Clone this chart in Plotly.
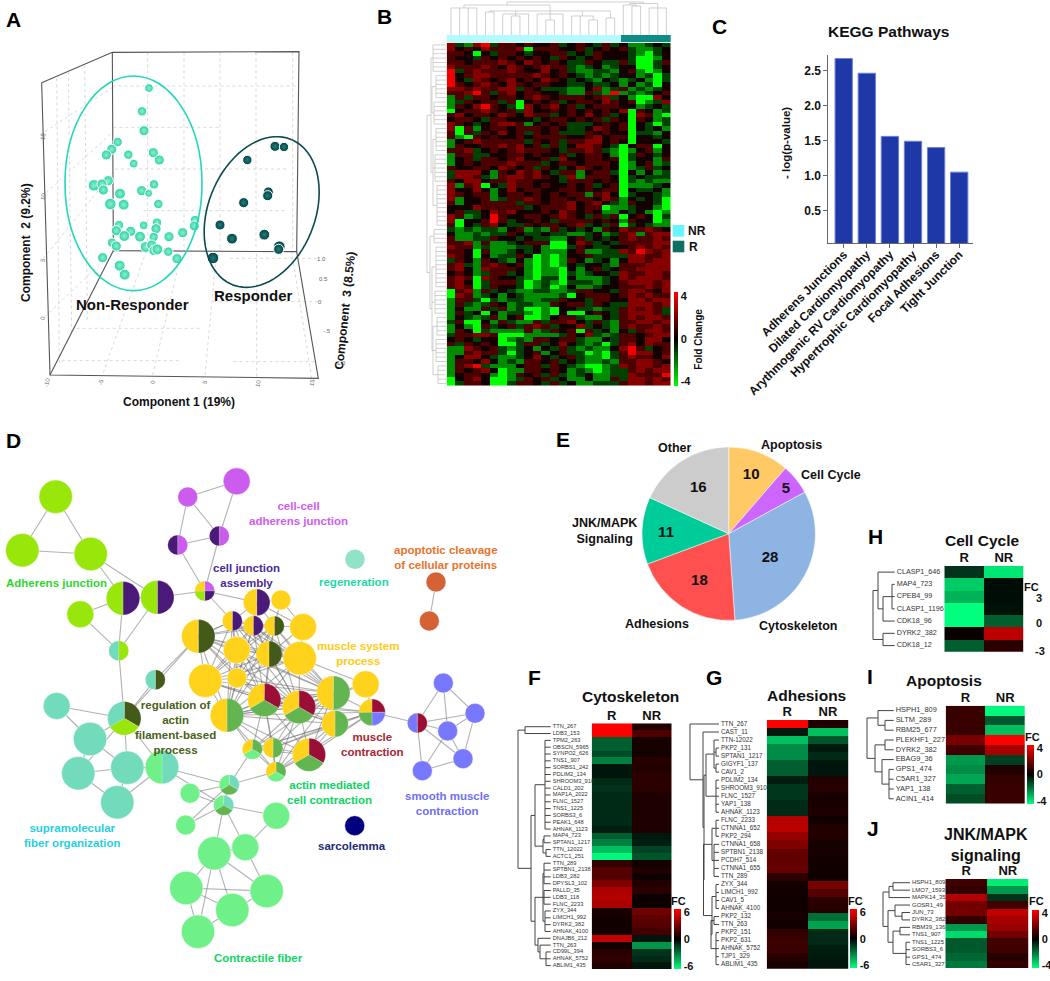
import itertools
import numpy as np
import plotly.graph_objects as go

W, H = 1050, 981
FONT = 'Liberation Sans'

# ---------- A: PCA, positions (picture units, 3 per px)
nr_x = [447, 426, 432, 353, 335, 319, 385, 401, 460, 478, 325, 282, 306, 310, 462, 425, 446, 360, 331, 371, 475, 357, 349,
        392, 373, 420, 431, 471, 468, 461, 507, 548, 585, 583, 336, 349, 437, 455, 462, 472, 505, 531, 308, 359, 374]
nr_y = [264, 334, 392, 426, 448, 465, 464, 491, 458, 480, 542, 556, 552, 570, 553, 572, 580, 581, 612, 614, 612, 675, 692,
        694, 708, 710, 676, 668, 686, 711, 710, 698, 660, 678, 728, 738, 741, 735, 752, 748, 755, 776, 773, 797, 824]
nr_s = [12, 13, 14, 13, 14, 14, 13, 12, 14, 14, 14, 16, 14, 14, 13, 14, 11, 15, 16, 15, 13, 13, 14, 14, 15, 15, 12, 13,
        14, 13, 14, 14, 13, 14, 13, 14, 15, 14, 14, 15, 13, 14, 14, 15, 15]
r_x = [825, 852, 742, 805, 803, 731, 660, 696, 793, 838, 836, 639]
r_y = [439, 441, 480, 576, 587, 608, 675, 716, 704, 740, 748, 774]
r_s = [14, 13, 13, 14, 14, 14, 14, 15, 15, 16, 14, 16]

box_x = [125, 337, 897, 890, 340, 337, None, 125, 150, 955, 890, None, 340, 150]
box_y = [248, 157, 155, 755, 752, 157, None, 248, 1125, 1135, 755, None, 752, 1125]
wall_x = [443, 443, None, 552, 552, None, 660, 660, None, 768, 768, None, 878, 878, None,
          337, 897, None, 340, 655, None, 345, 860, None, 430, 860, None,
          120, 337, None, 125, 340, None, 130, 345, None, 135, 345, None,
          205, 215, None, 254, 262, None, 170, 178, None,
          310, 440, None, 458, 545, None, 615, 650, None, 770, 770, None, 935, 875, None,
          690, 950, None, 640, 960, None, 230, 600, None, 185, 540, None, 700, 950]
wall_y = [157, 752, None, 157, 752, None, 157, 752, None, 157, 752, None, 157, 752, None,
          258, 258, None, 382, 382, None, 507, 507, None, 632, 632, None,
          405, 262, None, 590, 395, None, 775, 510, None, 950, 750, None,
          215, 1000, None, 195, 960, None, 235, 1090, None,
          1118, 750, None, 1125, 755, None, 1125, 755, None, 1130, 755, None, 1135, 755, None,
          775, 775, None, 905, 905, None, 985, 985, None, 1082, 1082, None, 1085, 1085]

# ---------- B: fold-change heatmap, one letter per cell
b_levels = {'G': -4, 'g': -2.2, 'd': -1, 'k': .3, 'm': 1.2, 'r': 2.1, 'R': 3.8}
b_rows = [
    "rdgrR dmmkm kkmdk mkdmd kggdkd", "rkmkr mmmrG mmmkk mdkmk mdggdk", "mmkGk dmmkd kkmmd kdmkk kdgGdk",
    "mkkdm kmkmk mkdmk dkmkk kdGGgk", "mmkmm mrmkr mkmkd dmkdd mdGGdm", "rmmmr mkrmk mrmmd gdkgd kkGGdk",
    "Rdmrm mmrmk krkmd ggddg kmgGgk", "Rkmrr mmmmm rmkmk dgdgd kkgdGd", "Rkdrm kmrkm krmkd kdgkd gdkgGd",
    "Rmkmr mkrmk mmkkd dkddk gkgdGk", "rrmrm mrrdm kdddg gkrgd mgdgdk", "mmrRm dmrkm mkkdg gmdgR gdgdkm",
    "gmdmm kmmkm rmkmm mkmrd kgGGrk", "gdmkm mdmGk mkmdk mmkrm kmGgdr", "gmkrR mkdGr kmrkm dkmmm kkgdkd",
    "Gkmmr mkmdr kkmkm kmkmk rGmkgd", "mrkmm krmkr mmdkm krkmd kGrmgG", "kmmkd mmkkk dkmmk mkmdm kGmkgd",
    "rmkdk mrrmg kmkmd ddkmk mGkdGd", "rGmgk mmkmm mkmkd dkrmk mGkdkg", "mGmdm krkmd mkmdd dmkmk kGddgk",
    "mgGmk mkkmk mmmmk kmrkm mGkkdk", "gkmrm mmmmd mkmdm mrrkm kGkkkd", "gmkkm mrmrk mdmdk rrmkd GkmmGk",
    "mmrdk mkmrm mmkdm mrmdg Ggkmgk", "gmmdd kkmmk mkkmd kmmkg Gdmkdk", "gkmdm mkmrk kmdrk kmmkm Gdkkgm",
    "gkmkm mmrmm mdkmm kmmmk Ggkmgd", "mkkmm krmkm dmkdk rmkmk Ggdmdk", "drrrk gmkrm rkdmm gkmmd Gkgkgd",
    "drrmd gmrrm rmkdr gmmmk Gdkddd", "mkrrk mmrmm kkkdm mmkmk Gdgdgg", "rgmrG kdrmm kmkkm kmdkm Ggggdk",
    "rkkrk gkrkm mkkmm kmkmm Gkddkg", "rmkmm gkmmk mkmkm mgmrk Gdkkdg", "rgkkm gdmmr mkmmk mmkrm gkdkdG",
    "mgkkm mmmdm mkmmr kmrkd gmkkdG", "kkkrm mmmmd kmmmr kmmGg gdkkgG", "kmddk rmrkk kmkrm kmkgg kdkgGg",
    "rmgdk Rmkkm mkmrm kdmdm GkmkGd", "rGkkm Rmdkk mkdmm mmkmk gmkkGg", "mGkdm rkddm kmmkm rdkdm Gdkdgg",
    "dgdgd dgkmg dgmdk dkgmk rmmrmk", "kggdg ddmkd dkddg gdkgd mrgmrr", "mggdd mkkdk ddggk mdkdk mrmmrm",
    "mmrgm ggdkm mmGGk rmdkd mmmmrr", "rmmgd gggdd kgGGd mkddk kmrmrm", "mmkGm ggdkd kgggk mggdd rmRrmr",
    "rmkGk gddmk GgGgk kmddd drrmmr", "dmkgm kdgkg GgGgm kgdkg krrmrr", "mrdgm rmkmg GgGgk dkkdg mmmrrr",
    "mrkgr mmmkg GggGk gkmdk mmrrrr", "kmkgd mmdkg GggGd gdkkd rmmrrm", "mrmGr mkkdg GddGk gggdk rmrrrm",
    "mrkGd mmmdG gdgGd ddgdk mrrrmr", "mrmGd mkkdG gdGgk ggdkk mmmrmr", "Gmrgm dkdgg ddggd mmkkd mrrmkr",
    "Grmgd kgkdg gggdG kmmmk mrmrmm", "gmmdG dgddg gddmk kdmmk krrmrr", "gmdgd mkgdd ggmkm mdmkd drrrmr",
    "gkggm dmgdG GgGkk ddgdd mrmrmd", "gmdkG kgddg GgGkG Gkmkd mrrrmd", "gkdgd mgkmG Ggkmm dggkd mrmrrm",
    "dmGGk gmdgg mdmmr kdmdg mmrrmr", "gkgGm dkmdm rmdkk rdkdg mrmmrm", "gmkGd ggggm gdmkm Gmdkg kdmrrm",
    "dmmrr mGGGg gggdm krdgd mmkmrr", "kmkdk kGgdg mmkmm dggkd mmkrrk", "mdmkm kGGdm mdkrk dgdGd mrkrmm",
    "ggrmk mdgdk gkdmd gdggk rRmdkm", "ggmrm mdGdk mgkmd dGgGd mRrrkm", "gkrrk dggdk rkdkm dggGd mrmmkr",
    "gmmkr kgdgm mkmdk dggdg mmrrmk", "gmrRd gggkm mdmkd gGGgd rmrrmr", "gmkmr kGggm mkmkg dgGgd dmrmrr",
    "gkmmk gGgmk mdmdg dkggd drmmmR", "Gkmrk GGgdm kmdkg gkggm drrmrm", "Gdmmk GGdmm kdmdk ggddd mrrmrr",
]
b_top_tree = (2, [(5, [(8, [0, 1, 2, 3]),
                       (11, [(12, [4, 5]), (14, [6, (16, [7, 8]), 9]), (14, [10, (20, [11, 12]), 13]),
                             (16, [14, 15, (20, [16, 17])]), (18, [18, 19])])]),
                  (3.5, [(5, [20, (6, [21, 22])]), (8, [23, 24, 25])])])
b_left_tree = (427, [(431, [(433, [0, 1, 2, 3, 4, 5, 6]), (432, [(436, [7, 8, 9, 10, 11, 12]), (434, [13, 14, 15, 16, 17, 18])]),
                            (433, [(436, [19, 20, 21, 22, 23, 24]), (435, [25, 26, 27, 28, 29, 30, 31]), (437, [32, 33, 34, 35, 36, 37, 38, 39, 40, 41])])]),
                     (430, [(434, [42, 43, 44, 45]), (432, [(436, [46, 47, 48, 49, 50, 51, 52, 53, 54, 55]), (435, [56, 57, 58, 59, 60, 61]),
                                                            (433, [(437, [62, 63, 64, 65, 66]), (436, [67, 68, 69, 70, 71, 72]), (438, [73, 74, 75, 76, 77])])])])])

# ---------- C: KEGG
kegg_terms = ['Adherens Junctions', 'Dilated Cardiomyopathy', 'Arythmogenic RV Cardiomyopathy',
              'Hypertrophic Cardiomyopathy', 'Focal Adhesions', 'Tight Junction']
kegg_vals = [2.67, 2.46, 1.56, 1.49, 1.40, 1.05]

# ---------- D: network
LIME, PURPLE, PINK, YEL, OLIVE = '#98E60A', '#4A1A78', '#CC5CEE', '#FFD21C', '#445A18'
TEAL, MID, MAROON, LGREEN, PERI = '#72DBBB', '#62B550', '#9B0F36', '#70F088', '#7878FF'
ORANGE, NAVY, REGEN = '#D46235', '#00007F', '#90E3C8'
node_x = [55.7, 22.3, 90.7, 123, 157.3, 80.3, 118.7, 155.3, 187.7, 236.7, 177.7, 219.3, 204.7, 355, 436, 429.3,
          256.7, 281, 232.3, 253.3, 274.3, 303, 198.3, 236.7, 269, 299.7, 205.3, 237, 365.7, 264.3, 299, 333.3,
          372, 227, 335, 309, 252.3, 273, 276, 443.3, 475, 417.3, 447.7, 463, 422.3, 124.3, 56.7, 90, 78.3, 127.3,
          117.3, 162, 190, 229.3, 223.7, 185.7, 276.3, 214.3, 245.3, 186.3, 266.7, 232.3, 198, 354.7]
node_y = [496.7, 550.3, 554, 598.3, 597.3, 614.3, 650.7, 679.7, 497, 481.3, 545, 536, 591, 559.3, 582, 621,
          602.3, 600, 621, 625.7, 626, 627, 636.3, 650, 654, 658.3, 680.7, 678, 684.3, 700, 707, 692.7,
          712.3, 715.3, 723.7, 754.7, 749.3, 748, 771.7, 683, 713.3, 723, 731, 758.7, 770.7, 718.3, 706, 739, 773.3, 767.7,
          802.3, 767, 793.3, 784.7, 805.3, 825, 815.7, 853.3, 847.3, 888, 891, 910, 931.7, 825.7]
node_r = [16.7, 16.7, 16.7, 16.7, 16.7, 13.5, 10, 10, 10, 13.5, 10, 10, 10, 10, 10, 10,
          13.3, 10, 10, 10, 10, 13.5, 16.7, 13.5, 13, 16.7, 16.7, 10, 13.5, 16.5, 16.5, 16.7,
          13.3, 16.7, 13.3, 16.5, 10, 10, 10, 10, 10, 10, 10, 10, 10, 16.7, 13.5, 16.7, 16.7, 16.7,
          16.7, 16.7, 10, 10, 10, 10, 13.5, 16.7, 13.5, 16.7, 16.7, 16.7, 16.7, 10]
# slices go clockwise from 12 o'clock
node_fill = [(LIME,), (LIME,), (LIME,), (PURPLE, LIME), (PURPLE, LIME), (LIME,), (LIME, TEAL), (OLIVE, TEAL),
             (PINK,), (PINK,), (PINK, PURPLE), (PINK, PURPLE), (PINK, PURPLE, LIME, YEL), (REGEN,), (ORANGE,), (ORANGE,),
             (PURPLE, YEL), (YEL,), (PURPLE, YEL), (PURPLE, YEL), (OLIVE, YEL), (YEL,), (OLIVE, YEL), (YEL,), (OLIVE, YEL),
             (YEL,), (YEL,), (YEL,), (YEL,), (MAROON, MID, YEL), (MAROON, MID, YEL), (MID, YEL),
             (MAROON, PERI, MID, YEL), (MID, YEL), (MID, YEL), (MAROON, MID, YEL), (MID, LGREEN, YEL), (MID, YEL), (MID, LGREEN, YEL),
             (PERI,), (PERI,), (MAROON, PERI), (PERI,), (PERI,), (PERI,), (OLIVE, LIME, TEAL), (TEAL,), (TEAL,), (TEAL,), (TEAL,),
             (TEAL,), (TEAL, LGREEN), (LGREEN,), (TEAL, MID, LGREEN), (TEAL, MID, LGREEN), (LGREEN,), (LGREEN,), (LGREEN,), (LGREEN,),
             (LGREEN,), (LGREEN,), (LGREEN,), (LGREEN,), (NAVY,)]
edges = [(1, 2), (1, 3), (2, 3), (3, 4), (3, 5), (4, 5), (4, 6), (6, 7), (4, 7), (5, 7), (7, 46), (5, 13), (9, 10), (9, 11), (9, 12),
         (10, 12), (11, 12), (11, 13), (12, 13), (13, 17), (13, 19), (23, 8), (8, 46), (47, 46), (47, 48), (46, 48), (46, 49), (46, 50),
         (48, 50), (48, 49), (49, 50), (49, 51), (50, 51), (50, 52), (51, 52), (46, 52), (52, 54), (52, 55), (53, 54), (53, 55), (54, 55),
         (54, 37), (54, 39), (55, 57), (55, 56), (56, 54), (55, 58), (55, 59), (57, 59), (58, 59), (58, 60), (58, 61), (58, 62), (58, 63),
         (59, 61), (60, 61), (60, 62), (60, 63), (61, 62), (62, 63), (33, 42), (42, 40), (42, 41), (42, 43), (42, 44), (42, 45), (40, 43),
         (40, 41), (41, 43), (43, 44), (41, 44), (43, 45), (44, 45), (15, 16), (17, 18), (17, 19), (17, 20), (17, 21), (17, 22), (18, 21),
         (18, 22), (22, 25), (22, 26), (22, 21), (29, 26), (29, 32), (29, 31), (29, 33), (27, 35), (23, 19), (46, 23)]
core_a = [19, 20, 21, 23, 24, 25, 26, 27, 28, 30, 31, 34, 32]
core_b = [30, 31, 32, 34, 35, 36, 37, 38, 39, 33]
d_labels = [
    ('Adherens junction', 56.3, 582.7, '#2FD52F'), ('cell-cell<br>adherens junction', 298, 513, '#D05CF0'),
    ('cell junction<br>assembly', 246.7, 575.5, '#4A2A96'), ('regeneration', 353.7, 582, '#1FD8A5'),
    ('apoptotic cleavage<br>of cellular proteins', 445.5, 557.7, '#E8742A'), ('muscle system<br>process', 358, 653, '#FFCB14'),
    ('regulation of<br>actin<br>filament-based<br>process', 175, 727.5, '#4A5F1A'), ('muscle<br>contraction', 372, 744.7, '#A82632'),
    ('actin mediated<br>cell contraction', 329.3, 792, '#0DD464'), ('smooth muscle<br>contraction', 447, 803, '#6F6FF0'),
    ('supramolecular<br>fiber organization', 72, 835.3, '#28CFE0'), ('sarcolemma', 351.7, 845.7, '#1C2A78'),
    ('Contractile fiber', 258.3, 958.3, '#0FD65F'),
]

# ---------- E: pie
pie_names = ['Apoptosis', 'Cell Cycle', 'Cytoskeleton', 'Adhesions', 'JNK/MAPK Signaling', 'Other']
pie_vals = [10, 5, 28, 18, 11, 16]
pie_cols = ['#FFC966', '#CC66FF', '#8EB4E3', '#FF5050', '#00CC99', '#CCCCCC']

# ---------- F-J: small heatmaps
f_genes = ['TTN_267', 'LDB3_153', 'TPM2_263', 'OBSCN_5965', 'SYNPO2_626', 'TNS1_907', 'SORBS1_242', 'PDLIM2_134', 'SHROOM3_910',
           'CALD1_202', 'MAP1A_2022', 'FLNC_1527', 'TNS1_1225', 'SORBS3_6', 'PEAK1_648', 'AHNAK_1123', 'MAP4_723', 'SPTAN1_1217',
           'TTN_12022', 'ACTC1_251', 'TTN_289', 'SPTBN1_2138', 'LDB3_282', 'DPYSL3_102', 'PALLD_35', 'LDB3_118', 'FLNC_2233', 'ZYX_344',
           'LIMCH1_992', 'DYRK2_382', 'AHNAK_4100', 'DNAJB6_212', 'TTN_263', 'CD99L_394', 'AHNAK_5752', 'ABLIM1_435']
f_r = [6, 6, -2.2, -2.2, -1.8, -3, -.5, -.5, -1, -1.2, -1, -1, -1, -1, -1, -.7, -2.2, -3, -4.5, -5.8,
       1.2, 2, 2, 3, 4, 4.2, 4, .6, .5, .4, .4, 4.6, .4, 1, 1.1, .8]
f_nr = [.8, 1.8, .6, .5, .5, .9, .8, 1, 1, 1, .7, .7, .7, .7, .7, .7, -.6, -.7, -1.6, -2,
        .5, .7, .3, .8, 1, .3, .3, 2.6, 2.2, 2, 1.6, -.5, -3.5, -1.2, -1, -.5]
f_tree = (518, [(525, [0, 1]),
                (531, [(535, [(545, list(range(2, 16))), (543, [(544, [16, 17]), (546, [18, 19])])]),
                       (535, [(543, [(544, [20, 21, 22, 23]), (544, [24, 25, 26]), (545, [27, 28, 29, 30])]),
                              (538, [31, (540, [32, (546, [33, 34, 35])])])])])])

g_genes = ['TTN_267', 'CAST_11', 'TTN-12022', 'PKP2_131', 'SPTAN1_1217', 'GIGYF1_137', 'CAV1_2', 'PDLIM2_134', 'SHROOM3_910',
           'FLNC_1527', 'YAP1_138', 'AHNAK_1123', 'FLNC_2233', 'CTNNA1_652', 'PKP2_294', 'CTNNA1_658', 'SPTBN1_2138', 'PCDH7_514',
           'CTNNA1_655', 'TTN_289', 'ZYX_344', 'LIMCH1_992', 'CAV1_5', 'AHNAK_4100', 'PKP2_132', 'TTN_263', 'PKP2_151', 'PKP2_631',
           'AHNAK_5752', 'TJP1_329', 'ABLIM1_435']
g_r = [6, -.6, -4.5, -3.3, -3.3, -2.2, -2.2, -.7, -1.3, -1.3, -1, -1, 4.2, 4.4, 3.5, 3, 2.3, 2.3, 2.4, 1,
       .5, .4, .4, .4, .6, .4, 1.2, 1.4, 1.4, .9, .6]
g_nr = [.8, -4.5, -2, -.6, -1, -.5, -.5, .8, .9, .6, .6, .7, .4, .8, .8, .5, .6, .4, .4, .4,
        2.8, 2, 1, .9, -2.6, -3.8, -1, -1, -.7, -.6, -.5]
g_tree = (690, [0, (703, [1, (704, [(706, [(714, [2, (716, [3, 4]), (716, [5, 6])]), (716, [7, 8, 9, 10, 11])]),
                                    (703.5, [(712, [(716, [12, 13, 14]), (714, [15, 16, 17, 18, 19])]),
                                             (712, [(716, [20, 21, 22, 23]), (711, [(714, [24, 25]), (716, [26, 27, 28, 29, 30])])])])])])])

h_genes = ['CLASP1_646', 'MAP4_723', 'CPEB4_99', 'CLASP1_1196', 'CDK18_96', 'DYRK2_382', 'CDK18_12']
h_r = [-.6, -2.4, -2.1, -3, -3, .1, -1.1]
h_nr = [-2.7, -.15, -.15, -.2, -1.1, 2.2, .5]
h_tree = (873, [(878, [0, (883, [(892, [1, 2, 3]), 4])]), (883, [5, 6])])

i_genes = ['HSPH1_809', 'SLTM_289', 'RBM25_677', 'PLEKHF1_227', 'DYRK2_382', 'EBAG9_36', 'GPS1_474', 'C5AR1_327', 'YAP1_138', 'ACIN1_414']
i_r = [.9, .9, .9, 1.9, 1, -2.4, -2.2, -2.6, -1.5, -1.2]
i_nr = [-3.9, -1.4, -3, 4, 2.6, -1, .5, .8, .9, .9]
i_tree = (867, [(878, [0, (885, [1, 2])]), (875, [(885, [3, 4]), (882, [5, (889, [6, 7, 8, 9])])])])

j_genes = ['HSPH1_809', 'LMO7_1593', 'MAPK14_35', 'GOSR1_49', 'JUN_73', 'DYRK2_382', 'RBM39_136', 'TNS1_907', 'TNS1_1225', 'SORBS3_6', 'GPS1_474', 'C5AR1_327']
j_r = [1, .8, 2.8, 1.8, 1.8, .8, -2.4, -3.4, -1.4, -1.4, -1.6, -1.9]
j_nr = [-3.7, -2.4, -.8, 1, 3, 2.6, 2.4, 1.8, 1, 1, .6, .8]
j_tree = (883, [(889, [(893, [0, 1]), 2]), (888, [(895, [3, (902, [4, 5])]), (893, [(900, [6, 7]), (906, [8, 9, 10, 11])])])])

FC_SCALE = [[0, '#00FF7F'], [.5, '#000000'], [1, '#FF0000']]
B_SCALE = [[0, '#00FF00'], [.5, '#000000'], [1, '#FF0000']]

fig = go.Figure()
axis_count = [0]


def new_axes(box, xr, yr, **xkw):
    """Hidden axes placed on a pixel box (x0, x1, y0, y1) of the page."""
    axis_count[0] += 1
    n = axis_count[0]
    sfx = '' if n == 1 else str(n)
    xa = dict(domain=[box[0] / W, box[1] / W], range=xr, visible=False, anchor='y' + sfx, fixedrange=True)
    ya = dict(domain=[1 - box[3] / H, 1 - box[2] / H], range=yr, visible=False, anchor='x' + sfx, fixedrange=True)
    xa.update(xkw)
    fig.layout['xaxis' + sfx] = xa
    fig.layout['yaxis' + sfx] = ya
    return 'x' + sfx, 'y' + sfx


notes = []


def note(text, x, y, size=12, color='#111', bold=True, angle=0):
    if bold:
        text = '<b>' + text.replace('<br>', '</b><br><b>') + '</b>'
    notes.append(dict(text=text, x=x / W, y=1 - y / H, xref='paper', yref='paper', showarrow=False, textangle=angle,
                      xanchor='center', yanchor='middle', font=dict(family=FONT, size=size, color=color)))


def tree_segments(node, leaf_pos, out):
    """Walk a nested (position, children) tree; returns the row of the node."""
    if not isinstance(node, tuple):
        return node
    pos, kids = node
    rows = []
    for kid in kids:
        row = tree_segments(kid, leaf_pos, out)
        end = kid[0] if isinstance(kid, tuple) else leaf_pos
        out.append(((pos, row), (end, row)))
        rows.append(row)
    out.append(((pos, rows[0]), (pos, rows[-1])))
    return (rows[0] + rows[-1]) / 2


def tree_xy(tree, leaf_pos):
    segs = []
    tree_segments(tree, leaf_pos, segs)
    a, b = [], []
    for p, q in segs:
        a += [p[0], q[0], None]
        b += [p[1], q[1], None]
    return a, b


def colorbar(x0, x1, y0, y1, top, labels):
    return dict(x=x0 / W, xanchor='left', y=1 - y0 / H, yanchor='top', len=y1 - y0, lenmode='pixels', thickness=x1 - x0,
                thicknessmode='pixels', xpad=0, ypad=0, outlinewidth=0, ticks='', ticklen=0, tickvals=[top * .9, 0, -top * .9],
                ticktext=labels, tickfont=dict(family=FONT, size=11, color='#111', weight='bold'))


def small_heat(genes, r, nr, tree, box, label_x, label_size, top, bar=None):
    xa, ya = new_axes(box, [-.5, 1.5], [len(genes) - .5, -.5], visible=True, side='top', showgrid=False, zeroline=False,
                      tickmode='array', tickvals=[0, 1], ticktext=['R', 'NR'], ticks='', showline=False,
                      tickfont=dict(family=FONT, size=13, color='#111', weight='bold'))
    fig.add_trace(go.Heatmap(z=[[a, b] for a, b in zip(r, nr)], colorscale=FC_SCALE, zmin=-top, zmax=top, hoverinfo='skip',
                             showscale=bar is not None, colorbar=bar, xaxis=xa, yaxis=ya))
    left = tree[0] - 1
    xb, yb = new_axes((left, box[0], box[2], box[3]), [left, box[0]], [len(genes) - .5, -.5])
    lx, ly = tree_xy(tree, label_x - 2)
    fig.add_trace(go.Scatter(x=lx, y=ly, mode='lines', line=dict(color='#444', width=1), hoverinfo='skip', xaxis=xb, yaxis=yb))
    fig.add_trace(go.Scatter(x=[label_x] * len(genes), y=list(range(len(genes))), text=genes, mode='text', textposition='middle right',
                             textfont=dict(family=FONT, size=label_size, color='#333'), cliponaxis=False, hoverinfo='skip', xaxis=xb, yaxis=yb))


# ---- A
xa, ya = new_axes((0, 360, 0, 420), [0, 1080], [1260, 0])
fig.add_trace(go.Scatter(x=wall_x, y=wall_y, mode='lines', line=dict(color='#CFCFCF', width=.8, dash='dot'), hoverinfo='skip', xaxis=xa, yaxis=ya))
fig.add_trace(go.Scatter(x=box_x, y=box_y, mode='lines', line=dict(color='#555', width=1.1), hoverinfo='skip', xaxis=xa, yaxis=ya))
fig.add_trace(go.Scatter(x=nr_x, y=nr_y, mode='markers', hoverinfo='skip', xaxis=xa, yaxis=ya,
                         marker=dict(size=[s * .72 for s in nr_s], color='#2BD1A3', opacity=1, gradient=dict(type='radial', color='#8AEFD0'))))
fig.add_trace(go.Scatter(x=r_x, y=r_y, mode='markers', hoverinfo='skip', xaxis=xa, yaxis=ya,
                         marker=dict(size=[s * .72 for s in r_s], color='#063F40', opacity=1, gradient=dict(type='radial', color='#1F7F7F'))))
fig.add_shape(type='circle', xref=xa, yref=ya, x0=195, x1=606, y0=228, y1=872, line=dict(color='#22D8B8', width=1.6))
t = np.linspace(0, 2 * np.pi, 80)
ell_x = 785 + 235 * np.cos(t) * np.sin(np.radians(22)) + 160 * np.sin(t) * np.cos(np.radians(22))
ell_y = 636 - 235 * np.cos(t) * np.cos(np.radians(22)) + 160 * np.sin(t) * np.sin(np.radians(22))
fig.add_shape(type='path', xref=xa, yref=ya, line=dict(color='#0B4A4E', width=1.6),
              path='M' + 'L'.join(f'{a:.1f},{b:.1f}' for a, b in zip(ell_x, ell_y)) + 'Z')
note('Component 1 (19%)', 179, 402, 12)
note('Component  2 (9.2%)', 26, 243, 12, angle=-90)
note('Component  3 (8.5%)', 345, 311, 12, angle=-84)
note('Non-Responder', 132, 304, 15)
note('Responder', 253, 295, 15)
for txt, x, y, ang in [('-10', 47, 383, -80), ('-5', 101, 382, -80), ('0', 153, 382, -80), ('5', 205, 382, -80), ('10', 258, 384, -80), ('15', 312, 383, -80),
                       ('1.0', 321, 259, 0), ('0.5', 323, 279, 0), ('0', 320, 302, 0), ('-.5', 327, 331, 0), ('-1.0', 340, 363, 0)]:
    note(txt, x, y, 6, '#666', bold=False, angle=ang)
for txt, y in [('15', 137), ('10', 197), ('5', 260), ('0', 318)]:
    note(txt, 43, y, 6, '#666', bold=False, angle=-80)

# ---- B
b_z = [[b_levels[c] for c in row.replace(' ', '')] for row in b_rows]
xa, ya = new_axes((446.7, 670.7, 42.7, 385.7), [-.5, 25.5], [len(b_z) - .5, -.5])
fig.add_trace(go.Heatmap(z=b_z, colorscale=B_SCALE, zmin=-4, zmax=4, hoverinfo='skip', xaxis=xa, yaxis=ya,
                         colorbar=colorbar(674, 678.3, 291.7, 385.7, 4, ['4', '0', '-4'])))
xb, yb = new_axes((426, 446.7, 42.7, 385.7), [426, 446.7], [len(b_z) - .5, -.5])
lx, ly = tree_xy(b_left_tree, 446.7)
fig.add_trace(go.Scatter(x=lx, y=ly, mode='lines', line=dict(color='#BBB', width=.7), hoverinfo='skip', xaxis=xb, yaxis=yb))
xb, yb = new_axes((446.7, 670.7, 0, 35), [-.5, 25.5], [35, 0])
lh, lc = tree_xy(b_top_tree, 35)
fig.add_trace(go.Scatter(x=lc, y=lh, mode='lines', line=dict(color='#BBB', width=.7), hoverinfo='skip', xaxis=xb, yaxis=yb))
shapes = [dict(type='rect', xref='paper', yref='paper', x0=a / W, x1=b / W, y0=1 - d / H, y1=1 - c / H, fillcolor=col, line_width=0)
          for a, b, c, d, col in [(446.7, 621, 35, 42, '#B3FBFF'), (621, 670.7, 35, 42, '#0F8C86'),
                                  (672.7, 684.3, 225, 236.7, '#66F6FF'), (672.7, 684.3, 240.7, 252.3, '#0E6F63')]]
for s in shapes:
    fig.add_shape(**s)
note('NR', 697, 231, 12)
note('R', 693, 247, 12)
note('Fold Change', 697.7, 339, 10, angle=-90)

# ---- C
xa, ya = new_axes((828.3, 973.3, 55, 243), [-.667, 5.61], [.04, 2.72], visible=True, type='category', showline=True, linecolor='#666',
                  ticks='outside', ticklen=4, tickcolor='#666', tickangle=-45, showgrid=False, ticklabelstandoff=-5,
                  tickfont=dict(family=FONT, size=12, color='#111', weight='bold'))
fig.layout[ya.replace('y', 'yaxis')].update(visible=True, showline=True, linecolor='#666', ticks='outside', ticklen=4, tickcolor='#666', showgrid=False,
                                            zeroline=False, tickvals=[.5, 1, 1.5, 2, 2.5], tickformat='.1f',
                                            tickfont=dict(family=FONT, size=12, color='#111', weight='bold'))
fig.add_trace(go.Bar(x=kegg_terms, y=kegg_vals, width=.75, marker=dict(color='#1E38A8', line=dict(color='#6C82D8', width=1)),
                     hoverinfo='skip', xaxis=xa, yaxis=ya))
note('KEGG Pathways', 888, 31, 15.5)
note('- log(p-value)', 786, 143, 11.5, angle=-90)

# ---- D
xa, ya = new_axes((0, 510, 440, 981), [0, 510], [981, 440])
edge_pairs = edges + list(itertools.combinations(core_a, 2)) + list(itertools.combinations(core_b, 2))
ex, ey = [], []
for a, b in edge_pairs:
    ex += [node_x[a - 1], node_x[b - 1], None]
    ey += [node_y[a - 1], node_y[b - 1], None]
fig.add_trace(go.Scatter(x=ex, y=ey, mode='lines', line=dict(color='rgba(115,115,115,0.55)', width=1.1), hoverinfo='skip', xaxis=xa, yaxis=ya))
plain = [i for i, f in enumerate(node_fill) if len(f) == 1]
fig.add_trace(go.Scatter(x=[node_x[i] for i in plain], y=[node_y[i] for i in plain], mode='markers', hoverinfo='skip', xaxis=xa, yaxis=ya,
                         marker=dict(size=[2 * node_r[i] for i in plain], color=[node_fill[i][0] for i in plain], opacity=1,
                                     line=dict(color='rgba(255,255,255,0.6)', width=.8))))
for i, fill in enumerate(node_fill):
    if len(fill) > 1:
        cx, cy, rad = node_x[i], node_y[i], node_r[i]
        fig.add_trace(go.Pie(values=[1] * len(fill), marker=dict(colors=list(fill), line=dict(color='rgba(255,255,255,0.5)', width=.4)), sort=False,
                             direction='clockwise', rotation=0, textinfo='none', hoverinfo='skip', showlegend=False,
                             domain=dict(x=[(cx - rad) / W, (cx + rad) / W], y=[1 - (cy + rad) / H, 1 - (cy - rad) / H])))
for txt, x, y, col in d_labels:
    note(txt, x, y, 11.5, col)

# ---- E
cx, cy, rad = 728.7, 533.7, 86.7
fig.add_trace(go.Pie(labels=pie_names, values=pie_vals, sort=False, direction='clockwise', rotation=0, marker=dict(colors=pie_cols, line=dict(color='#FFF', width=.5)),
                     textinfo='value', textposition='inside', insidetextorientation='horizontal', showlegend=False, hoverinfo='skip',
                     textfont=dict(family=FONT, size=15, color='#111', weight='bold'),
                     domain=dict(x=[(cx - rad) / W, (cx + rad) / W], y=[1 - (cy + rad) / H, 1 - (cy - rad) / H])))
for txt, x, y in [('Apoptosis', 791, 445.3), ('Cell Cycle', 830.7, 475.3), ('Cytoskeleton', 798.7, 626), ('Adhesions', 657, 623.7),
                  ('JNK/MAPK<br>Signaling', 604, 531), ('Other', 674.3, 448.3)]:
    note(txt, x, y, 12.5)

# ---- F-J
small_heat(f_genes, f_r, f_nr, f_tree, (591.7, 671.7, 723.3, 969), 552.7, 5.7, 6, colorbar(674, 680.7, 909.3, 969, 6, ['6', '0', '-6']))
small_heat(g_genes, g_r, g_nr, g_tree, (766.7, 848.3, 720, 968.7), 721, 6.3, 6, colorbar(850, 856.7, 909.3, 968.7, 6, ['6', '0', '-6']))
small_heat(h_genes, h_r, h_nr, h_tree, (944.3, 1023.7, 566, 651.7), 896.7, 7.2, 3)
small_heat(i_genes, i_r, i_nr, i_tree, (945.7, 1025, 705.7, 803.7), 895.7, 7.4, 4, colorbar(1026.7, 1033.3, 745, 804.3, 4, ['4', '0', '-4']))
small_heat(j_genes, j_r, j_nr, j_tree, (945.3, 1028.7, 879, 968.3), 912, 6, 4, colorbar(1031.7, 1039, 910, 968.3, 4, ['4', '0', '-4']))
note('Cytoskeleton', 630.7, 696, 15.5)
note('Adhesions', 806.7, 695, 15.5)
note('Cell Cycle', 982.3, 540.7, 15.5)
note('Apoptosis', 944, 680, 15.5)
note('JNK/MAPK<br>signaling', 986, 845, 16)
for txt, x, y in [('FC', 679, 901.3), ('FC', 855.3, 901), ('FC', 1032, 737.3), ('FC', 1036.7, 901), ('FC', 1031, 587.3),
                  ('3', 1039, 598.3), ('0', 1039, 622.7), ('-3', 1040, 650.7)]:
    note(txt, x, y, 11)

# ---- panel letters
for txt, x, y in [('A', 13, 20), ('B', 384, 17), ('C', 719, 26), ('D', 13, 441), ('E', 563, 440), ('F', 534, 677),
                  ('G', 714, 677), ('H', 875, 536), ('I', 870, 676), ('J', 873, 828)]:
    note(txt, x, y, 21, '#000')

fig.update_layout(width=W, height=H, margin=dict(l=0, r=0, t=0, b=0, autoexpand=False), paper_bgcolor='white', plot_bgcolor='white',
                  showlegend=False, annotations=notes, font=dict(family=FONT))
fig.write_html("out.html", post_script="document.body.style.margin='0';", config=dict(displayModeBar=False))
